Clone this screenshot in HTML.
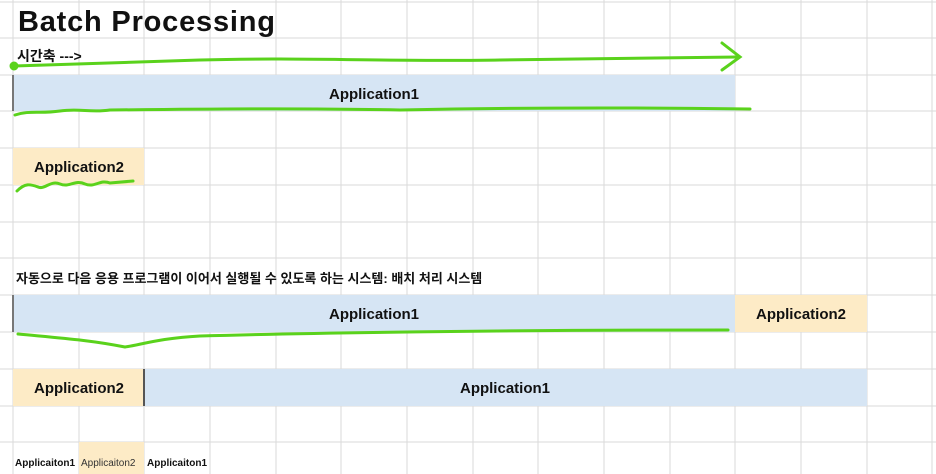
<!DOCTYPE html>
<html><head><meta charset="utf-8"><style>
body{margin:0;width:936px;height:474px;overflow:hidden;background:#fff;font-family:"Liberation Sans","Noto Sans CJK KR",sans-serif}
svg{position:absolute;left:0;top:0}
</style></head><body>
<svg width="936" height="474">
<g id="grid" stroke="#dadada" stroke-width="1"></g>
<g>
<rect x="13" y="75" width="722" height="36" fill="#d6e5f4"/>
<rect x="13" y="148" width="131" height="37" fill="#fdebc6"/>
<rect x="13" y="295" width="722" height="37" fill="#d6e5f4"/>
<rect x="735" y="295" width="132" height="37" fill="#fdebc6"/>
<rect x="13" y="369" width="131" height="37" fill="#fdebc6"/>
<rect x="144" y="369" width="723" height="37" fill="#d6e5f4"/>
<rect x="79" y="442" width="65" height="32" fill="#fdebc6"/>
<line x1="13" y1="75" x2="13" y2="111" stroke="#777" stroke-width="2"/>
<line x1="13" y1="295" x2="13" y2="332" stroke="#777" stroke-width="2"/>
<line x1="144" y1="369" x2="144" y2="406" stroke="#555" stroke-width="2"/>
</g>
<g font-weight="bold" fill="#111">
<text x="18" y="31" font-size="29" letter-spacing="0.8">Batch Processing</text>
<text x="17" y="61" font-size="14">시간축 ---&gt;</text>
<text x="374" y="99" font-size="15" text-anchor="middle">Application1</text>
<text x="79" y="172" font-size="15" text-anchor="middle">Application2</text>
<text x="16" y="283" font-size="13">자동으로 다음 응용 프로그램이 이어서 실행될 수 있도록 하는 시스템: 배치 처리 시스템</text>
<text x="374" y="319" font-size="15" text-anchor="middle">Application1</text>
<text x="801" y="319" font-size="15" text-anchor="middle">Application2</text>
<text x="79" y="393" font-size="15" text-anchor="middle">Application2</text>
<text x="505" y="393" font-size="15" text-anchor="middle">Application1</text>
<text x="15" y="466" font-size="10">Applicaiton1</text>
<text x="81" y="466" font-size="10" font-weight="normal" fill="#333">Applicaiton2</text>
<text x="147" y="466" font-size="10">Applicaiton1</text>
</g>
<g fill="none" stroke="#5ad21c" stroke-width="3" stroke-linecap="round">
<path d="M14 66 C100 63 150 62 200 60 C300 57 400 62 500 60 C600 58 680 58 738 57"/>
<path d="M722 43 L740 57 L722 70"/>
<circle cx="14" cy="66" r="3" fill="#5ad21c"/>
<path d="M15 115 C30 110 40 114 60 111 C80 108 90 113 110 110 C200 109 300 108 400 110 C500 108 600 107 750 109"/>
<path d="M17 191 C25 183 30 184 38 187 C45 190 50 180 60 184 C70 188 75 179 85 184 C95 188 100 179 110 183 L133 181"/>
<path d="M18 334 C60 338 90 340 125 347 C140 345 160 338 200 336 C300 333 500 330 728 330"/>
</g>
</svg>
<script>
const g=document.getElementById('grid');
const cols=[13,79,144,210,276,341,407,473,538,604,670,735,801,867,932];
const rows=[2,38,75,111,148,185,222,258,295,332,369,406,442];
const ns='http://www.w3.org/2000/svg';
cols.forEach(x=>{const l=document.createElementNS(ns,'line');l.setAttribute('x1',x);l.setAttribute('x2',x);l.setAttribute('y1',0);l.setAttribute('y2',474);


g.appendChild(l);});
rows.forEach(y=>{const l=document.createElementNS(ns,'line');l.setAttribute('x1',0);l.setAttribute('x2',936);l.setAttribute('y1',y);l.setAttribute('y2',y);


g.appendChild(l);});
</script>
</body></html>
